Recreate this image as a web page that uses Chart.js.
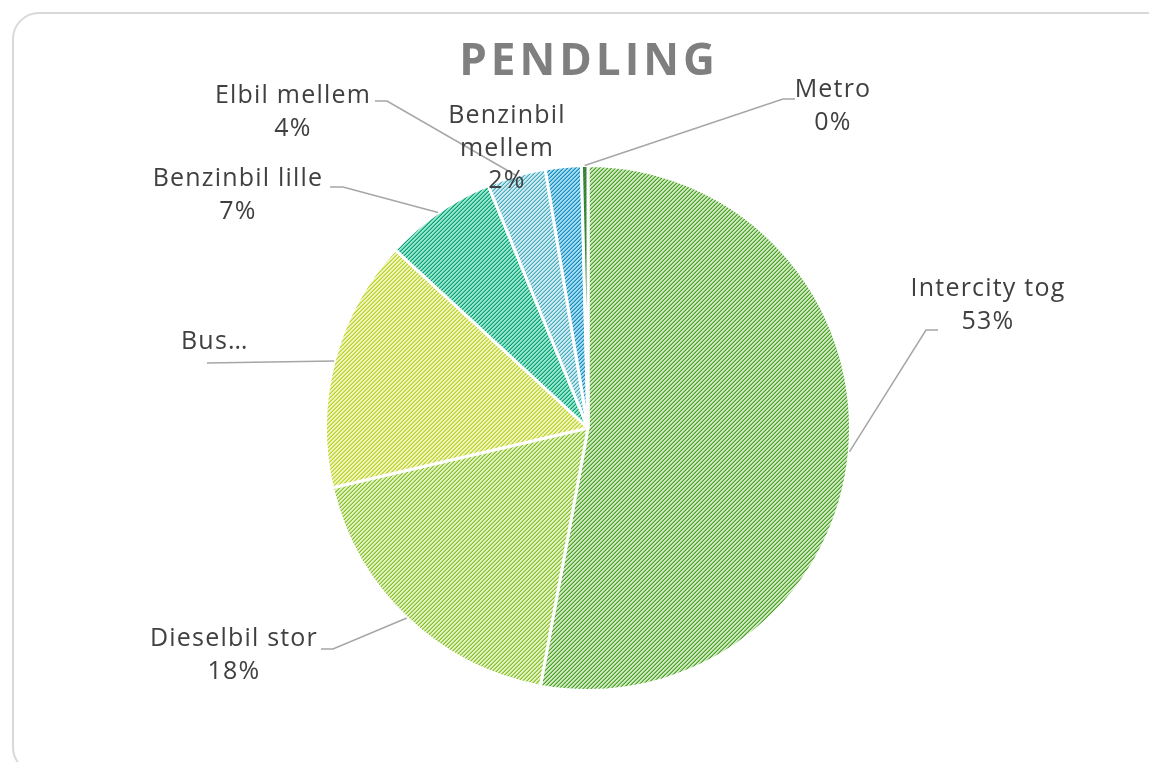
<!DOCTYPE html>
<html>
<head>
<meta charset="utf-8">
<script src="https://cdn.jsdelivr.net/npm/chart.js@4/dist/chart.umd.min.js"></script>
<style>
  html, body { margin: 0; padding: 0; background: #fff; }
  #wrap { width: 1149px; height: 762px; position: relative; }
</style>
</head>
<body>
<div id="wrap"><canvas id="chart-pendling"></canvas></div>
<script>
// ── Data ──────────────────────────────────────────────────────────────────
const CATEGORIES = ['Intercity tog', 'Dieselbil stor', 'Bus', 'Benzinbil lille',
                    'Elbil mellem', 'Benzinbil mellem', 'Metro'];
const SHARES     = [52.8, 18.4, 15.5, 6.9, 3.6, 2.2, 0.4];
const TITLE      = 'PENDLING';

// ── Styling ───────────────────────────────────────────────────────────────
// hatch colours: [line, half-tone, background]
const HATCH = [
  ['#4f9e30', '#8cc870', '#cfe9bf'],
  ['#86bf2c', '#b5da70', '#e3f2c4'],
  ['#bcd12a', '#d6e36a', '#eef5c0'],
  ['#109a72', '#4cc9a4', '#98e8d0'],
  ['#4aaabb', '#8ccfda', '#cdebf0'],
  ['#1a88bc', '#5cb8de', '#a4dcf0'],
  ['#2f7d2f', '#2f7d2f', '#3f8f3f'],
];
const TEXT_COLOR   = '#404040';
const LEADER_COLOR = '#a6a6a6';
const FONT         = "'Open Sans', sans-serif";

// label placement: text centre (first line), elbow + horizontal end of leader
const LABEL_LAYOUT = [
  { x: 988, y: 289, leader: [[926, 330], [938, 330]] },
  { x: 234, y: 639, leader: [[333, 649], [321, 649]] },
  { x: 181, y: 342, align: 'left', truncate: true, leader: [[330, 363], [207, 363]], direct: true },
  { x: 238, y: 179, leader: [[343, 187], [330, 187]] },
  { x: 293, y: 96,  leader: [[387, 101], [375, 101]] },
  { x: 507, y: 116, wrap: true },
  { x: 833, y: 90,  leader: [[783, 99], [795, 99]] },
];

function makeHatch([fg, mid, bg]) {
  const c = document.createElement('canvas');
  c.width = c.height = 8;
  const g = c.getContext('2d');
  g.fillStyle = bg;
  g.fillRect(0, 0, 8, 8);
  for (let y = 0; y < 8; y++) {
    for (let x = 0; x < 8; x++) {
      const k = (x + y) % 4;
      if (k === 3) { g.fillStyle = fg; g.fillRect(x, y, 1, 1); }
      else if (k === 2) { g.fillStyle = mid; g.fillRect(x, y, 1, 1); }
    }
  }
  return g.createPattern(c, 'repeat');
}

// frame + title behind the pie
const framePlugin = {
  id: 'frame',
  beforeDraw(chart) {
    const ctx = chart.ctx;
    ctx.save();
    ctx.fillStyle = '#fff';
    ctx.fillRect(0, 0, chart.width, chart.height);
    ctx.strokeStyle = '#d9d9d9';
    ctx.lineWidth = 2;
    ctx.beginPath();
    ctx.roundRect(13, 13, 1160, 760, 26);
    ctx.stroke();

    ctx.fillStyle = '#7f7f7f';
    ctx.font = `bold 44px ${FONT}`;
    ctx.letterSpacing = '4px';
    ctx.textAlign = 'center';
    ctx.textBaseline = 'middle';
    ctx.fillText(TITLE, 589, 62);
    ctx.restore();
  },
};

// data labels with leader lines
const labelPlugin = {
  id: 'pieLabels',
  afterDraw(chart) {
    const ctx = chart.ctx;
    const arcs = chart.getDatasetMeta(0).data;
    ctx.save();
    ctx.font = `25px ${FONT}`;
    ctx.letterSpacing = '1.2px';
    ctx.textBaseline = 'middle';
    arcs.forEach((arc, i) => {
      const lay = LABEL_LAYOUT[i];
      const { x, y, startAngle, endAngle, outerRadius } = arc.getProps(
        ['x', 'y', 'startAngle', 'endAngle', 'outerRadius'], true);
      const mid = (startAngle + endAngle) / 2;
      const ax = x + Math.cos(mid) * outerRadius;
      const ay = y + Math.sin(mid) * outerRadius;

      if (lay.leader) {
        ctx.strokeStyle = LEADER_COLOR;
        ctx.lineWidth = 1.5;
        ctx.beginPath();
        ctx.moveTo(ax, ay);
        if (lay.direct) {
          ctx.lineTo(lay.leader[1][0], lay.leader[1][1]);
        } else {
          ctx.lineTo(lay.leader[0][0], lay.leader[0][1]);
          ctx.lineTo(lay.leader[1][0], lay.leader[1][1]);
        }
        ctx.stroke();
      }

      const pct = Math.round(SHARES[i]) + '%';
      let lines;
      if (lay.truncate) lines = [CATEGORIES[i] + '…'];
      else if (lay.wrap) lines = [...CATEGORIES[i].split(' '), pct];
      else lines = [CATEGORIES[i], pct];

      ctx.fillStyle = TEXT_COLOR;
      ctx.textAlign = lay.align || 'center';
      lines.forEach((t, k) => ctx.fillText(t, lay.x, lay.y + k * 32.5));
    });
    ctx.restore();
  },
};

const canvas = document.getElementById('chart-pendling');
const hatches = HATCH.map(makeHatch);

new Chart(canvas, {
  type: 'pie',
  data: {
    labels: CATEGORIES,
    datasets: [{
      data: SHARES,
      backgroundColor: hatches,
      borderColor: '#ffffff',
      borderWidth: 3,
    }],
  },
  options: {
    responsive: true,
    maintainAspectRatio: false,
    animation: false,
    layout: { padding: { left: 324, right: 297, top: 164, bottom: 70 } },
    plugins: {
      legend: { display: false },
      tooltip: { enabled: false },
    },
  },
  plugins: [framePlugin, labelPlugin],
});
</script>
</body>
</html>
